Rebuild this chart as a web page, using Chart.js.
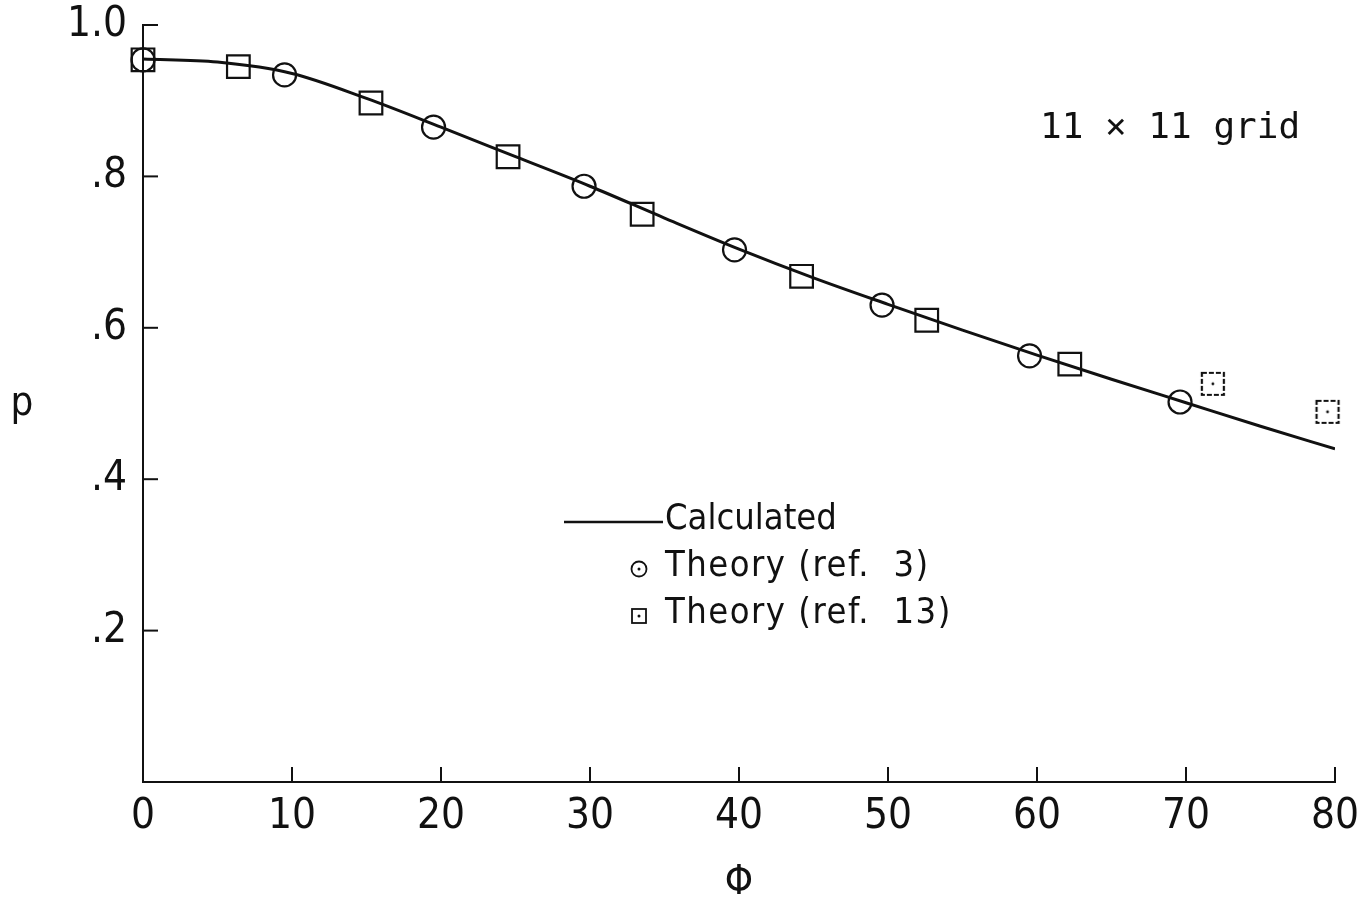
<!DOCTYPE html>
<html>
<head>
<meta charset="utf-8">
<script src="https://cdn.jsdelivr.net/npm/chart.js@4.4.1/dist/chart.umd.min.js"></script>
<style>
  html, body { margin: 0; padding: 0; background: #fff; }
  #wrap { position: relative; width: 1359px; height: 905px; }
</style>
</head>
<body>
<div id="wrap"><canvas id="chart" width="1359" height="905"></canvas></div>
<script>
// calculated curve
const calcPhi = [0, 5, 10, 15, 20, 25, 30, 35, 40, 45, 50, 55, 60, 65, 70, 75, 80];
const calcP = [0.955, 0.951, 0.936, 0.903, 0.865, 0.826, 0.787, 0.745, 0.704, 0.666, 0.631, 0.597, 0.564, 0.532, 0.501, 0.470, 0.440];

// Theory (ref. 3) - circles
const ref3Phi = [0, 9.5, 19.5, 29.6, 39.7, 49.6, 59.5, 69.6];
const ref3P = [0.954, 0.934, 0.865, 0.787, 0.703, 0.630, 0.563, 0.502];

// Theory (ref. 13) - squares
const ref13Phi = [0, 6.4, 15.3, 24.5, 33.5, 44.2, 52.6, 62.2, 71.8, 79.5];
const ref13P = [0.954, 0.945, 0.897, 0.826, 0.750, 0.668, 0.610, 0.552, 0.526, 0.489];

const xTicks = [0, 10, 20, 30, 40, 50, 60, 70, 80];
const yTicks = [0.2, 0.4, 0.6, 0.8, 1.0];
const yTickLabels = ['.2', '.4', '.6', '.8', '1.0'];

const tickFont = "'Liberation Sans Narrow', 'DejaVu Sans Condensed', sans-serif";
const textFont = "'DejaVu Sans Condensed', 'Liberation Sans Narrow', sans-serif";

const toXY = (xs, ys) => xs.map((x, i) => ({ x: x, y: ys[i] }));

// the last two ref. 13 squares are drawn dashed with a centre dot
function dashedSquare() {
  const c = document.createElement('canvas');
  c.width = 28; c.height = 28;
  const g = c.getContext('2d');
  g.strokeStyle = '#111';
  g.lineWidth = 2.2;
  g.setLineDash([5, 2]);
  g.strokeRect(3, 3, 22, 22);
  g.fillStyle = '#111';
  g.beginPath(); g.arc(14, 14, 1.4, 0, Math.PI * 2); g.fill();
  return c;
}
const dashedImg = dashedSquare();

const paperPlugin = {
  id: 'paper',
  afterDraw(chart) {
    const ctx = chart.ctx;
    const xs = chart.scales.x, ys = chart.scales.y;
    const x0 = xs.getPixelForValue(0), y0 = ys.getPixelForValue(0);
    ctx.save();
    ctx.strokeStyle = '#111';
    ctx.lineWidth = 2;
    // inward tick marks
    yTicks.forEach(v => {
      const py = ys.getPixelForValue(v);
      ctx.beginPath(); ctx.moveTo(x0, py); ctx.lineTo(x0 + 15, py); ctx.stroke();
    });
    xTicks.slice(1).forEach(v => {
      const px = xs.getPixelForValue(v);
      ctx.beginPath(); ctx.moveTo(px, y0); ctx.lineTo(px, y0 - 15); ctx.stroke();
    });

    ctx.fillStyle = '#111';
    ctx.textBaseline = 'middle';
    // axis titles
    ctx.font = '40px ' + textFont;
    ctx.textAlign = 'center';
    ctx.fillText('p', 22, 405);
    ctx.fillText('\u03A6', (xs.left + xs.right) / 2, 884);

    // grid note
    ctx.font = '36px DejaVu Sans Mono, Liberation Mono, monospace';
    ctx.textAlign = 'left';
    ctx.fillText('11 \u00D7 11 grid', 1040, 129);

    // legend
    ctx.font = '36px ' + textFont;
    ctx.lineWidth = 2.5;
    ctx.beginPath(); ctx.moveTo(564, 522); ctx.lineTo(663, 522); ctx.stroke();
    ctx.fillText('Calculated', 665, 520);
    ctx.lineWidth = 1.8;
    ctx.beginPath(); ctx.arc(639, 569, 7.5, 0, Math.PI * 2); ctx.stroke();
    ctx.beginPath(); ctx.arc(639, 569, 1.5, 0, Math.PI * 2); ctx.fill();
    ctx.letterSpacing = '1.5px';
    ctx.fillText('Theory (ref.  3)', 665, 567);
    ctx.strokeRect(632, 609, 14, 14);
    ctx.beginPath(); ctx.arc(639, 616, 1.5, 0, Math.PI * 2); ctx.fill();
    ctx.fillText('Theory (ref.  13)', 665, 614);
    ctx.restore();
  }
};

new Chart(document.getElementById('chart'), {
  type: 'scatter',
  data: {
    datasets: [
      {
        label: 'Calculated',
        data: toXY(calcPhi, calcP),
        showLine: true,
        cubicInterpolationMode: 'monotone',
        borderColor: '#111',
        borderWidth: 3,
        pointRadius: 0,
        order: 2
      },
      {
        label: 'Theory (ref. 3)',
        data: toXY(ref3Phi, ref3P),
        pointStyle: 'circle',
        pointRadius: 11.5,
        borderColor: '#111',
        borderWidth: 2.2,
        backgroundColor: 'rgba(0,0,0,0)',
        clip: false,
        order: 1
      },
      {
        label: 'Theory (ref. 13)',
        data: toXY(ref13Phi, ref13P),
        pointStyle: ctx => ctx.dataIndex >= 8 ? dashedImg : 'rect',
        pointRadius: 16,
        borderColor: '#111',
        borderWidth: 2.2,
        backgroundColor: 'rgba(0,0,0,0)',
        clip: false,
        order: 1
      }
    ]
  },
  options: {
    responsive: false,
    animation: false,
    layout: { padding: { top: 25, right: 24, left: 0, bottom: 0 } },
    plugins: { legend: { display: false }, tooltip: { enabled: false } },
    scales: {
      x: {
        type: 'linear',
        min: 0, max: 80,
        afterFit: s => { s.height = 123; s.paddingLeft = 0; s.paddingRight = 0; },
        afterBuildTicks: s => { s.ticks = xTicks.map(v => ({ value: v })); },
        grid: { display: false, drawTicks: false },
        border: { display: true, color: '#111', width: 2 },
        ticks: {
          color: '#111',
          padding: 10,
          font: { family: tickFont, size: 42 },
          callback: v => String(v)
        }
      },
      y: {
        type: 'linear',
        min: 0, max: 1.0,
        afterFit: s => { s.width = 143; s.paddingTop = 0; s.paddingBottom = 0; },
        afterBuildTicks: s => { s.ticks = yTicks.map(v => ({ value: v })); },
        grid: { display: false, drawTicks: false },
        border: { display: true, color: '#111', width: 2 },
        ticks: {
          color: '#111',
          padding: 16,
          font: { family: tickFont, size: 42 },
          callback: v => yTickLabels[yTicks.findIndex(t => Math.abs(t - v) < 1e-6)]
        }
      }
    }
  },
  plugins: [paperPlugin]
});
</script>
</body>
</html>
